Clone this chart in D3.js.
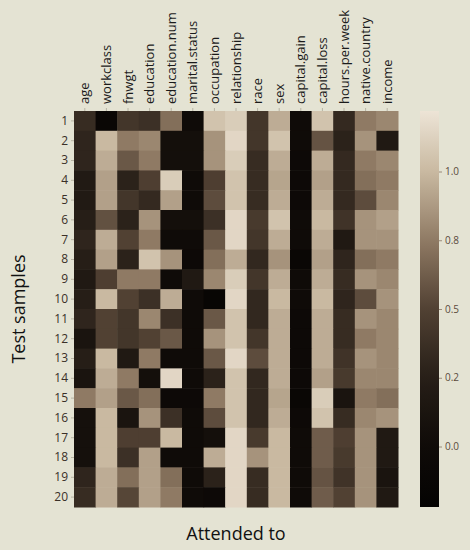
<!DOCTYPE html>
<html><head><meta charset="utf-8">
<script src="https://cdn.jsdelivr.net/npm/d3@7/dist/d3.min.js"></script>
<style>html,body{margin:0;padding:0;background:#e4e3d3;}</style>
</head><body>
<svg id="chart" width="470" height="550"></svg>
<script>
const features = ["age","workclass","fnwgt","education","education.num","marital.status","occupation","relationship","race","sex","capital.gain","capital.loss","hours.per.week","native.country","income"];
const samples = d3.range(1,21).map(String);
const cbTicks = [0, 0.25, 0.5, 0.75, 1.0];
const cbTickLabels = ["0.0","0.2","0.5","0.8","1.0"];
// rows = test samples, columns = features
const values = [
 [0.35,-0.10,0.42,0.38,0.70,0.00,1.05,1.10,0.42,0.95,0.00,1.05,0.33,0.75,0.80],
 [0.30,1.00,0.75,0.80,0.05,0.05,0.85,1.15,0.42,1.05,0.00,0.58,0.28,0.85,0.18],
 [0.30,0.95,0.60,0.75,0.05,0.05,0.85,1.10,0.35,0.95,-0.05,0.95,0.33,0.75,0.80],
 [0.20,0.90,0.28,0.48,1.10,0.00,0.48,1.05,0.35,0.92,-0.05,0.90,0.33,0.70,0.75],
 [0.20,0.90,0.42,0.33,0.90,0.00,0.55,1.05,0.35,0.95,-0.05,0.95,0.33,0.55,0.80],
 [0.25,0.57,0.28,0.85,0.05,0.05,0.38,1.15,0.45,1.05,0.00,1.00,0.40,0.85,0.90],
 [0.30,0.95,0.50,0.75,0.00,0.00,0.60,1.15,0.42,0.95,0.00,0.95,0.18,0.85,0.85],
 [0.25,0.90,0.28,1.05,0.85,-0.05,0.70,0.95,0.32,0.85,-0.10,0.90,0.30,0.70,0.75],
 [0.18,0.48,0.75,0.75,0.00,0.18,0.80,1.10,0.42,0.95,0.00,0.95,0.35,0.85,0.80],
 [0.25,1.00,0.50,0.38,0.95,0.00,-0.15,1.15,0.32,1.00,0.00,1.00,0.30,0.55,0.85],
 [0.30,0.50,0.42,0.80,0.38,0.00,0.60,1.05,0.32,0.95,-0.05,0.95,0.35,0.85,0.80],
 [0.12,0.50,0.42,0.50,0.60,0.00,0.85,1.05,0.42,0.95,-0.05,0.95,0.35,0.75,0.80],
 [0.25,1.00,0.18,0.75,0.00,0.00,0.60,1.15,0.55,0.95,-0.05,0.95,0.40,0.85,0.80],
 [0.12,0.95,0.75,0.05,1.15,0.00,0.28,1.05,0.32,0.95,-0.05,0.90,0.45,0.80,0.80],
 [0.75,0.90,0.60,0.70,-0.05,-0.05,0.75,1.05,0.32,0.92,-0.10,1.10,0.12,0.75,0.70],
 [0.07,1.00,0.12,0.85,0.38,0.00,0.55,1.05,0.32,0.95,-0.05,1.05,0.35,0.80,0.85],
 [0.07,1.00,0.48,0.48,1.00,0.00,0.05,1.15,0.45,1.00,0.00,0.62,0.48,0.85,0.18],
 [0.07,1.00,0.38,0.90,0.00,0.00,0.95,1.15,0.85,1.00,0.00,0.62,0.45,0.85,0.18],
 [0.30,0.95,0.70,0.90,0.70,0.00,0.28,1.15,0.35,1.00,0.00,0.58,0.40,0.85,0.12],
 [0.35,0.95,0.52,0.90,0.75,0.00,-0.05,1.15,0.35,1.00,0.00,0.62,0.50,0.85,0.18]
];
const vmin = -0.22, vmax = 1.22;

const svg = d3.select("#chart");
const L = 74, T = 111, W = 324, H = 396;
const x = d3.scaleBand().domain(features).range([L, L+W]);
const y = d3.scaleBand().domain(samples).range([T, T+H]);
const color = d3.scaleLinear()
  .domain([vmin, 0, 0.25, 0.5, 0.75, 1.0, vmax])
  .range(["#040302","#0f0b08","#261e17","#514133","#8f7a64","#c9b9a1","#ede4d6"])
  .clamp(true);

const cells = [];
values.forEach((row,i)=>row.forEach((v,j)=>cells.push({s:samples[i],f:features[j],v})));
svg.append("g").selectAll("rect").data(cells).join("rect")
  .attr("x",d=>x(d.f)).attr("y",d=>y(d.s))
  .attr("width",x.bandwidth()+0.5).attr("height",y.bandwidth()+0.5)
  .attr("fill",d=>color(d.v));

// top axis
const gx = svg.append("g").attr("transform",`translate(0,${T})`)
  .call(d3.axisTop(x).tickSize(3).tickPadding(5));
gx.select(".domain").remove();
gx.selectAll(".tick line").attr("stroke","#b8b4a4");
gx.selectAll(".tick text")
  .attr("transform","rotate(-90)").attr("x",7).attr("y",0).attr("dy","0.35em")
  .attr("text-anchor","start")
  .attr("font-family","'Open Sans', sans-serif").attr("font-size",13).attr("fill","#1a1a1a");

// left axis
const gy = svg.append("g").attr("transform",`translate(${L},0)`)
  .call(d3.axisLeft(y).tickSize(3).tickPadding(3));
gy.select(".domain").remove();
gy.selectAll(".tick line").attr("stroke","#b8b4a4");
gy.selectAll(".tick text").attr("font-family","'Open Sans', sans-serif").attr("font-size",12).attr("fill","#3a3028");

// colorbar
const cbX = 420, cbW = 19;
const cy = d3.scaleLinear().domain([vmin, vmax]).range([T+H, T]);
const defs = svg.append("defs");
const grad = defs.append("linearGradient").attr("id","cbg").attr("x1",0).attr("x2",0).attr("y1",1).attr("y2",0);
d3.range(0,1.0001,0.05).forEach(t=>{
  grad.append("stop").attr("offset",t).attr("stop-color",color(vmin+t*(vmax-vmin)));
});
svg.append("rect").attr("x",cbX).attr("y",T).attr("width",cbW).attr("height",H).attr("fill","url(#cbg)");
const gc = svg.append("g").attr("transform",`translate(${cbX+cbW},0)`)
  .call(d3.axisRight(cy).tickValues(cbTicks).tickFormat((d,i)=>cbTickLabels[i]).tickSize(3).tickPadding(3));
gc.select(".domain").remove();
gc.selectAll(".tick line").attr("stroke","#9a8a7a");
gc.selectAll(".tick text").attr("font-family","'Open Sans', sans-serif").attr("font-size",10).attr("fill","#5a4a3c");

// titles
svg.append("text").attr("x",L+W/2).attr("y",540).attr("text-anchor","middle")
  .attr("font-family","'Open Sans', sans-serif").attr("font-size",18).attr("fill","#111").text("Attended to");
svg.append("text").attr("transform",`translate(25,${T+H/2}) rotate(-90)`).attr("text-anchor","middle")
  .attr("font-family","'Open Sans', sans-serif").attr("font-size",18).attr("fill","#111").text("Test samples");
</script>
</body></html>
